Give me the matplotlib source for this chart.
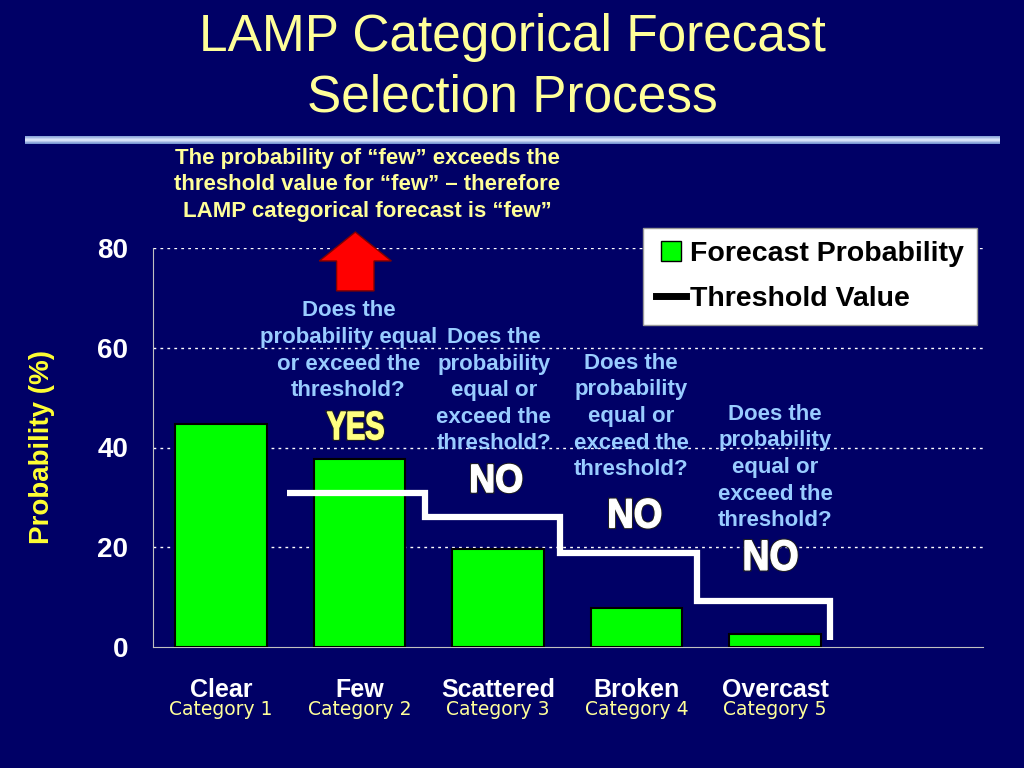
import numpy as np
import matplotlib
matplotlib.use('Agg')
import matplotlib.pyplot as plt
from matplotlib.lines import Line2D
from matplotlib.patches import FancyArrow, PathPatch
from matplotlib.textpath import TextPath
from matplotlib.font_manager import FontProperties
from matplotlib.transforms import Affine2D, IdentityTransform
from matplotlib.colors import LinearSegmentedColormap
import matplotlib.patheffects as pe

plt.rcParams['font.family'] = ['Liberation Sans', 'DejaVu Sans']

categories = ['Clear', 'Few', 'Scattered', 'Broken', 'Overcast']
cat_numbers = ['Category 1', 'Category 2', 'Category 3', 'Category 4', 'Category 5']
probability = [44.8, 37.6, 19.6, 7.8, 2.6]
# threshold values for Few .. Overcast, last value is where the line ends
thresholds = [30.8, 26.0, 18.8, 9.2]
threshold_end = 1.4
step_edges = [0.48, 1.473, 2.448, 3.437, 4.397]
yticks = [0, 20, 40, 60, 80]

questions = ['Does the\nprobability equal\nor exceed the\nthreshold?',
             'Does the\nprobability\nequal or\nexceed the\nthreshold?',
             'Does the\nprobability\nequal or\nexceed the\nthreshold?',
             'Does the\nprobability\nequal or\nexceed the\nthreshold?']
answers = ['YES', 'NO', 'NO', 'NO']

bg = '#000066'
fig = plt.figure(figsize=(10.24, 7.68), dpi=100, facecolor=bg)
ax = fig.add_axes([153/1024, 1-647/768, (983-153)/1024, (647-248)/768])
ax.set_facecolor(bg)

x = np.arange(len(categories))
ax.bar(x, probability, width=0.66, color='#00FF00', edgecolor='black', linewidth=1.5, zorder=3)

# threshold step line
sx, sy = [], []
for i, t in enumerate(thresholds):
    sx += [step_edges[i], step_edges[i+1]]
    sy += [t, t]
sx.append(step_edges[-1])
sy.append(threshold_end)
ax.plot(sx, sy, color='white', lw=4.5, solid_joinstyle='miter', solid_capstyle='butt', zorder=4)

ax.set_xlim(-0.49, 5.5)
ax.set_ylim(0, 80)
ax.set_yticks(yticks)
ax.set_yticklabels([str(v) for v in yticks], color='white', fontsize=20, fontweight='bold')
ax.set_xticks(x)
ax.set_xticklabels(categories, color='white', fontsize=18, fontweight='bold')
ax.tick_params(axis='y', length=0, pad=18)
ax.tick_params(axis='x', length=0, pad=22)
for v in yticks[1:]:
    ax.axhline(v, color='white', lw=1, ls=(0, (2, 3)), zorder=1)
for s in ['top', 'right']:
    ax.spines[s].set_visible(False)
ax.spines['left'].set_color('#c0c0c0')
ax.spines['bottom'].set_color('#c0c0c0')

for i, c in enumerate(cat_numbers):
    ax.text(i, -12.6, c, ha='center', va='center', color='#FFFF99', fontsize=13.5,
            family='DejaVu Sans')

ax.set_ylabel('Probability (%)', color='#FFFF33', fontsize=20, fontweight='bold', labelpad=30)

# questions
q_pos = [(0.92, 59.4), (1.97, 51.4), (2.96, 46.2), (4.0, 36.0)]
for q, (qx, qy) in zip(questions, q_pos):
    ax.text(qx, qy, q, ha='center', va='center', color='#99CCFF', fontsize=16,
            fontweight='bold', linespacing=1.35, zorder=5)

# tall narrow YES / NO answers
def tall_text(s, cx, cy, w, h, color):
    tp = TextPath((0, 0), s, size=1, prop=FontProperties(family='Liberation Sans', weight='bold'))
    ext = tp.get_extents()
    px, py = ax.transData.transform((cx, cy))
    tr = (Affine2D().translate(-ext.x0 - ext.width / 2, -ext.y0 - ext.height / 2)
          .scale(w / ext.width, h / ext.height).translate(px, py))
    patch = PathPatch(tr.transform_path(tp), transform=IdentityTransform(),
                      facecolor=color, edgecolor=color, lw=1.0, zorder=6,
                      path_effects=[pe.Stroke(linewidth=2.4, foreground='#202020'), pe.Normal()])
    fig.add_artist(patch)

a_pos = [(0.97, 44.4), (1.99, 33.8), (2.99, 26.8), (3.97, 18.4)]
a_size = [(56, 28), (50, 28), (51, 29), (52, 30)]
a_col = ['#FFFF80', 'white', 'white', 'white']
for a, (cx, cy), (w, h), c in zip(answers, a_pos, a_size, a_col):
    tall_text(a, cx, cy, w, h, c)

# red arrow pointing up at Few
arrow = FancyArrow(0.97, 71.4, 0, 11.8, width=0.27, head_width=0.52, head_length=5.8,
                   length_includes_head=True, facecolor='#FF0000', edgecolor='#800000',
                   lw=1, clip_on=False, zorder=5)
ax.add_patch(arrow)

# legend
handles = [Line2D([], [], marker='s', ls='none', markersize=14, markerfacecolor='#00FF00',
                  markeredgecolor='black'),
           Line2D([], [], color='black', lw=5)]
leg = fig.legend(handles, ['Forecast Probability', 'Threshold Value'],
                 loc='upper right', bbox_to_anchor=(977/1024, 1-228/768),
                 fancybox=False, framealpha=1, facecolor='white', edgecolor='#999999',
                 prop={'size': 20.5, 'weight': 'bold'}, handlelength=1.05, handletextpad=0.15,
                 labelspacing=0.68, borderpad=0.45, borderaxespad=0)
for t in leg.get_texts():
    t.set_color('black')

# title
fig.text(0.5, 1-38/768, 'LAMP Categorical Forecast', ha='center', va='center',
         color='#FFFF99', fontsize=37)
fig.text(0.5, 1-98/768, 'Selection Process', ha='center', va='center',
         color='#FFFF99', fontsize=37)

# separator bar with gradient
bar_ax = fig.add_axes([25/1024, 1-144/768, 975/1024, 8/768])
grad = np.array([[0.55], [0.8], [0.95], [0.75], [0.45]])
cmap = LinearSegmentedColormap.from_list('b', ['#2050b0', '#e8f0ff'])
bar_ax.imshow(grad, aspect='auto', cmap=cmap, vmin=0, vmax=1)
bar_ax.axis('off')

fig.text(367/1024, 1-185/768,
         'The probability of \u201cfew\u201d exceeds the\nthreshold value for \u201cfew\u201d \u2013 therefore\nLAMP categorical forecast is \u201cfew\u201d',
         ha='center', va='center', color='#FFFF99', fontsize=16, fontweight='bold',
         linespacing=1.32)

fig.savefig('out.png', dpi=100, facecolor=bg)
